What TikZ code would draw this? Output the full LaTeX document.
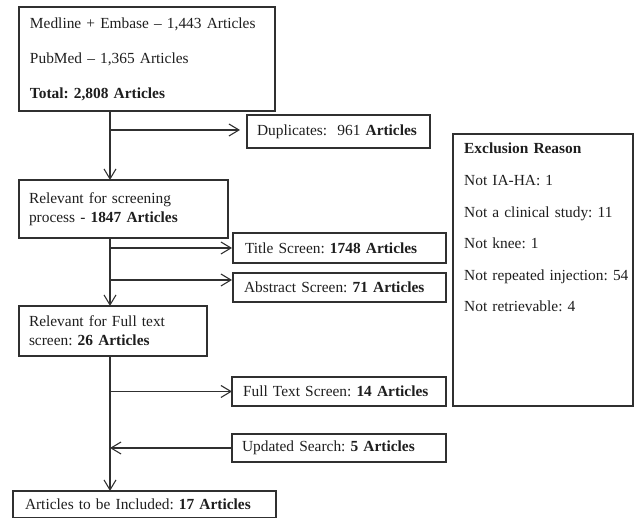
\documentclass[tikz,border=0pt]{standalone}
\usepackage{fontspec}
\setmainfont{Liberation Serif}
\usetikzlibrary{arrows.meta,calc}
\definecolor{ink}{HTML}{1E1E1E}
\definecolor{edge}{HTML}{303030}
\begin{document}
\frenchspacing
\begin{tikzpicture}[x=1pt,y=-1pt,
  font=\fontsize{15.4}{19}\selectfont\frenchspacing,
  box/.style={draw=edge, line width=1.2pt, text=ink, anchor=north west, align=left, inner ysep=0pt, outer sep=0pt},
  arr/.style={draw=edge, line width=1.1pt, -{Straight Barb[length=10pt,width=12pt,line width=1.1pt]}}]
\useasboundingbox (0,0) rectangle (641,518);
% main column
\node[box, minimum width=256pt, minimum height=104pt, text width=234pt, inner xsep=11pt] (src) at (19,7)
  {Medline + Embase – 1,443 Articles\\[16pt]PubMed – 1,365 Articles\\[16pt]\textbf{Total: 2,808 Articles}};
\node[box, minimum width=209pt, minimum height=58pt, text width=189pt, inner xsep=10pt] (rel) at (19,180)
  {Relevant for screening\\process - \textbf{1847 Articles}};
\node[box, minimum width=188pt, minimum height=50pt, text width=168pt, inner xsep=10pt] (full) at (19,306)
  {Relevant for Full text\\screen: \textbf{26 Articles}};
\node[box, minimum width=263pt, minimum height=27pt, text width=239pt, inner xsep=12pt] (inc) at (13,491)
  {Articles to be Included: \textbf{17 Articles}};
% side boxes
\node[box, minimum width=183pt, minimum height=33pt, text width=163pt, inner xsep=10pt] (dup) at (247,115)
  {Duplicates:\ \ 961 \textbf{Articles}};
\node[box, minimum width=213pt, minimum height=30pt, text width=189pt, inner xsep=12pt] (tit) at (233,233)
  {Title Screen: \textbf{1748 Articles}};
\node[box, minimum width=213pt, minimum height=29pt, text width=191pt, inner xsep=11pt] (abs) at (233,273)
  {Abstract Screen: \textbf{71 Articles}};
\node[box, minimum width=214pt, minimum height=29pt, text width=192pt, inner xsep=11pt] (fts) at (232,377)
  {Full Text Screen: \textbf{14 Articles}};
\node[box, minimum width=214pt, minimum height=28pt, text width=194pt, inner xsep=10pt] (upd) at (232,434)
  {Updated Search: \textbf{5 Articles}};
% exclusion box
\node[box, minimum width=180pt, minimum height=272pt] (excl) at (453,134) {};
\node[anchor=north west, text=ink, align=left, text width=178pt, inner sep=0pt,
  font=\fontsize{15.4}{31.6}\selectfont\frenchspacing] (exctext) at ([xshift=11pt,yshift=-9pt]excl.north west)
  {\textbf{Exclusion Reason}\\Not IA-HA: 1\\Not a clinical study: 11\\Not knee: 1\\Not repeated injection: 54\\Not retrievable: 4};
% connectors
\coordinate (sp) at (110,0);
\draw[arr] (src.south -| sp) -- (rel.north -| sp);
\draw[arr] (rel.south -| sp) -- (full.north -| sp);
\draw[arr] (full.south -| sp) -- (inc.north -| sp);
\draw[arr, shorten >=7pt] ([yshift=1.5pt]dup.west -| sp) -- ([yshift=1.5pt]dup.west);
\draw[arr, shorten >=1pt] (tit.west -| sp) -- (tit.west);
\draw[arr, shorten >=1pt] ([yshift=7.5pt]abs.west -| sp) -- ([yshift=7.5pt]abs.west);
\draw[arr] (fts.west -| sp) -- (fts.west);
\draw[arr] (upd.west) -- (upd.west -| sp);
\end{tikzpicture}
\end{document}
